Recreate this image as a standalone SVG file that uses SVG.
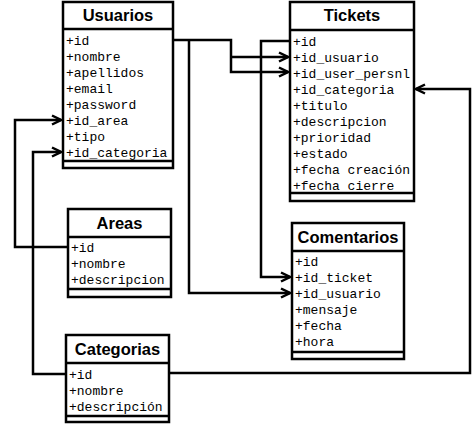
<svg xmlns="http://www.w3.org/2000/svg" width="473" height="426" viewBox="0 0 473 426">
<defs>
<marker id="arr" markerWidth="12" markerHeight="12" viewBox="0 0 12 12" refX="11" refY="6" orient="auto" markerUnits="userSpaceOnUse">
<polyline points="2,1.5 11,6 2,10.5" fill="none" stroke="#000" stroke-width="2.5"/>
</marker>
</defs>
<style>
.box{fill:#fff;stroke:#000;stroke-width:2.5}
.ln{stroke:#000;stroke-width:2.5}
.hd{font-family:"Liberation Sans",Arial,sans-serif;font-weight:bold;font-size:16.5px;text-anchor:middle}
.at{font-family:"Liberation Mono","Courier New",monospace;font-size:13px}
.cn{fill:none;stroke:#000;stroke-width:2.5}
</style>
<rect width="473" height="426" fill="#fff"/>
<g id="connectors">
<polyline class="cn" points="173,40 231,40 231,72 288,72" marker-end="url(#arr)"/>
<polyline class="cn" points="231,57 288,57" marker-end="url(#arr)"/>
<polyline class="cn" points="189,40 189,293 290,293" marker-end="url(#arr)"/>
<polyline class="cn" points="290,41 261,41 261,277 290,277" marker-end="url(#arr)"/>
<polyline class="cn" points="68,247 15,247 15,120 61,120" marker-end="url(#arr)"/>
<polyline class="cn" points="66,374 33,374 33,152 61,152" marker-end="url(#arr)"/>
<polyline class="cn" points="169,373 470,373 470,89 416,89" marker-end="url(#arr)"/>
</g>
<g id="usuarios">
<rect class="box" x="63" y="2" width="110" height="166"/>
<line class="ln" x1="63" y1="29" x2="173" y2="29"/>
<line class="ln" x1="63" y1="161" x2="173" y2="161"/>
<text class="hd" x="118" y="21">Usuarios</text>
<text class="at" x="66" y="44.5">+id</text>
<text class="at" x="66" y="60.5">+nombre</text>
<text class="at" x="66" y="76.5">+apellidos</text>
<text class="at" x="66" y="92.5">+email</text>
<text class="at" x="66" y="108.5">+password</text>
<text class="at" x="66" y="124.5">+id_area</text>
<text class="at" x="66" y="140.5">+tipo</text>
<text class="at" x="66" y="156.5">+id_categoria</text>
</g>
<g id="tickets">
<rect class="box" x="290" y="2" width="124" height="199"/>
<line class="ln" x1="290" y1="30" x2="414" y2="30"/>
<line class="ln" x1="290" y1="193" x2="414" y2="193"/>
<text class="hd" x="352" y="21">Tickets</text>
<text class="at" x="293" y="45.5">+id</text>
<text class="at" x="293" y="61.5">+id_usuario</text>
<text class="at" x="293" y="77.5">+id_user_persnl</text>
<text class="at" x="293" y="93.5">+id_categoria</text>
<text class="at" x="293" y="109.5">+titulo</text>
<text class="at" x="293" y="125.5">+descripcion</text>
<text class="at" x="293" y="141.5">+prioridad</text>
<text class="at" x="293" y="157.5">+estado</text>
<text class="at" x="293" y="173.5">+fecha creación</text>
<text class="at" x="293" y="189.5">+fecha cierre</text>
</g>
<g id="areas">
<rect class="box" x="68" y="209" width="103" height="88"/>
<line class="ln" x1="68" y1="237" x2="171" y2="237"/>
<line class="ln" x1="68" y1="289" x2="171" y2="289"/>
<text class="hd" x="119.5" y="229">Areas</text>
<text class="at" x="71" y="251.5">+id</text>
<text class="at" x="71" y="267.5">+nombre</text>
<text class="at" x="71" y="283.5">+descripcion</text>
</g>
<g id="comentarios">
<rect class="box" x="292" y="223" width="112" height="136"/>
<line class="ln" x1="292" y1="251" x2="404" y2="251"/>
<line class="ln" x1="292" y1="352" x2="404" y2="352"/>
<text class="hd" x="348" y="243">Comentarios</text>
<text class="at" x="295" y="265.5">+id</text>
<text class="at" x="295" y="281.5">+id_ticket</text>
<text class="at" x="295" y="297.5">+id_usuario</text>
<text class="at" x="295" y="313.5">+mensaje</text>
<text class="at" x="295" y="329.5">+fecha</text>
<text class="at" x="295" y="345.5">+hora</text>
</g>
<g id="categorias">
<rect class="box" x="66" y="335" width="103" height="87"/>
<line class="ln" x1="66" y1="363" x2="169" y2="363"/>
<line class="ln" x1="66" y1="416" x2="169" y2="416"/>
<text class="hd" x="117.5" y="355">Categorias</text>
<text class="at" x="69" y="378.5">+id</text>
<text class="at" x="69" y="394.5">+nombre</text>
<text class="at" x="69" y="410.5">+descripción</text>
</g>
</svg>
